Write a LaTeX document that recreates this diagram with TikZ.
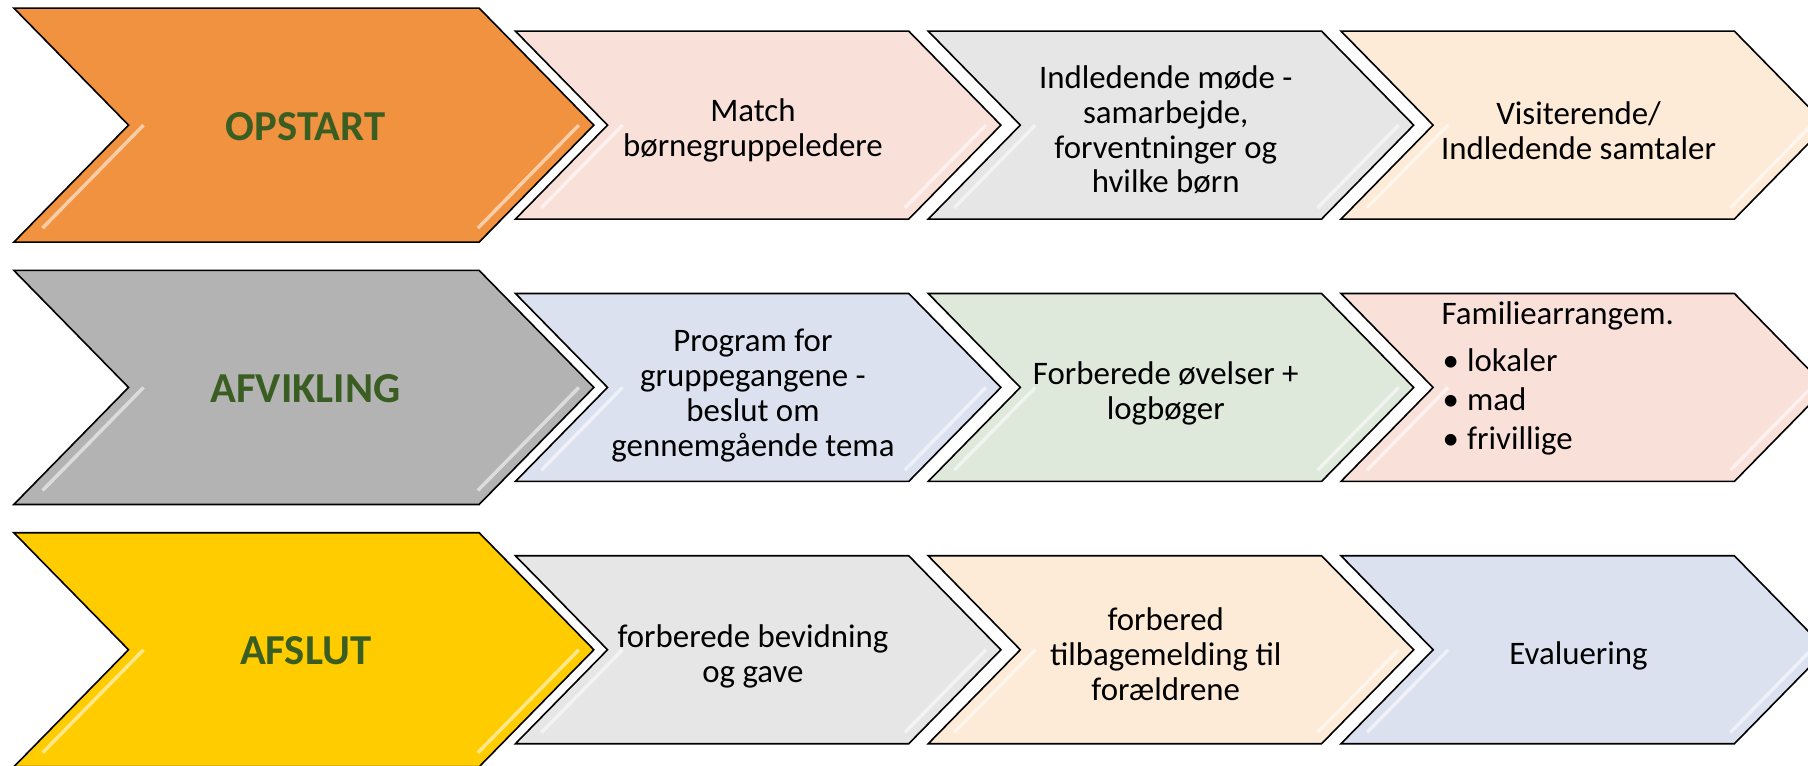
\documentclass[tikz,border=0pt]{standalone}
\usepackage{fontspec}
\setmainfont{Carlito}
\definecolor{orng}{HTML}{F19240}
\definecolor{gryB}{HTML}{B3B3B3}
\definecolor{yllw}{HTML}{FFCC00}
\definecolor{lblgreen}{HTML}{3A5E22}
\definecolor{pinkL}{HTML}{F9E1DA}
\definecolor{grayL}{HTML}{E6E6E6}
\definecolor{peachL}{HTML}{FDEBD8}
\definecolor{blueL}{HTML}{DCE1F0}
\definecolor{greenL}{HTML}{DEE8DB}
\newcommand\mychev[5]{% left, top, width, height, colour
  \pgfmathsetmacro\chD{#4*0.49}%
  \pgfmathsetmacro\chR{#1+#3}%
  \pgfmathsetmacro\chM{#2+#4/2}%
  \pgfmathsetmacro\chB{#2+#4}%
  \pgfmathsetmacro\chRc{\chR-\chD}%
  \pgfmathsetmacro\chN{#1+\chD}%
  \path[fill=#5,draw=black,line width=1.4,line join=miter] (#1,#2) -- (\chRc,#2) -- (\chR,\chM) -- (\chRc,\chB) -- (#1,\chB) -- (\chN,\chM) -- cycle;
  \pgfmathsetmacro\chSa{\chN+13}%
  \pgfmathsetmacro\chSb{\chN+13-0.88*\chD}%
  \pgfmathsetmacro\chSy{\chM+0.88*(\chB-\chM)}%
  \pgfmathsetmacro\chTa{\chR-13}%
  \pgfmathsetmacro\chTb{\chR-13-0.88*\chD}%
  \draw[streak] (\chSa,\chM) -- (\chSb,\chSy);
  \draw[streak] (\chTa,\chM) -- (\chTb,\chSy);
}
\begin{document}
\begin{tikzpicture}[x=1pt,y=-1pt,
  streak/.style={white,opacity=0.55,line width=3},
  biglabel/.style={font=\fontsize{37}{40}\selectfont\bfseries,text=lblgreen,inner sep=0},
  boxtext/.style={font=\fontsize{28.5}{30.3}\selectfont,align=center,inner sep=0},
  famtext/.style={font=\fontsize{28.5}{30.3}\selectfont,anchor=base west,inner sep=0}]
\useasboundingbox (0,0) rectangle (1568,664.3);
% row 1
\mychev{12}{7}{503}{203}{orng}
\mychev{447}{27}{421}{163}{pinkL}
\mychev{805}{27}{421}{163}{grayL}
\mychev{1163}{27}{421}{163}{peachL}
% row 2
\mychev{12}{234.5}{503}{203}{gryB}
\mychev{447}{254.5}{421}{163}{blueL}
\mychev{805}{254.5}{421}{163}{greenL}
\mychev{1163}{254.5}{421}{163}{pinkL}
% row 3
\mychev{12}{462}{503}{203}{yllw}
\mychev{447}{482}{421}{163}{grayL}
\mychev{805}{482}{421}{163}{peachL}
\mychev{1163}{482}{421}{163}{blueL}
% labels
\node[biglabel] (l1) at (265,109.5) {OPSTART};
\node[biglabel] (l2) at (265,337) {AFVIKLING};
\node[biglabel] (l3) at (265,564.5) {AFSLUT};
\node[boxtext] (a1) at (653,113) {Match\\børnegruppeledere};
\node[boxtext] (a2) at (1011,112.5) {Indledende møde -\\samarbejde,\\forventninger og\\hvilke børn};
\node[boxtext] (a3) at (1369,113) {Visiterende/\\Indledende samtaler};
\node[boxtext] (b1) at (653,343) {Program for\\gruppegangene -\\beslut om\\gennemgående tema};
\node[boxtext] (b2) at (1011,341) {Forberede øvelser +\\logbøger};
\node[famtext] (f0) at (1250,281) {Familiearrangem.};
\node[famtext] (f1) at (1251,322) {•\hspace{7pt}lokaler};
\node[famtext] (f2) at (1251,356) {•\hspace{7pt}mad};
\node[famtext] (f3) at (1251,390) {•\hspace{7pt}frivillige};
\node[boxtext] (c1) at (653,569) {forberede bevidning\\og gave};
\node[boxtext] (c2) at (1011,567) {forbered\\tilbagemelding til\\forældrene};
\node[boxtext] (c3) at (1369,569) {Evaluering};
\end{tikzpicture}
\end{document}
